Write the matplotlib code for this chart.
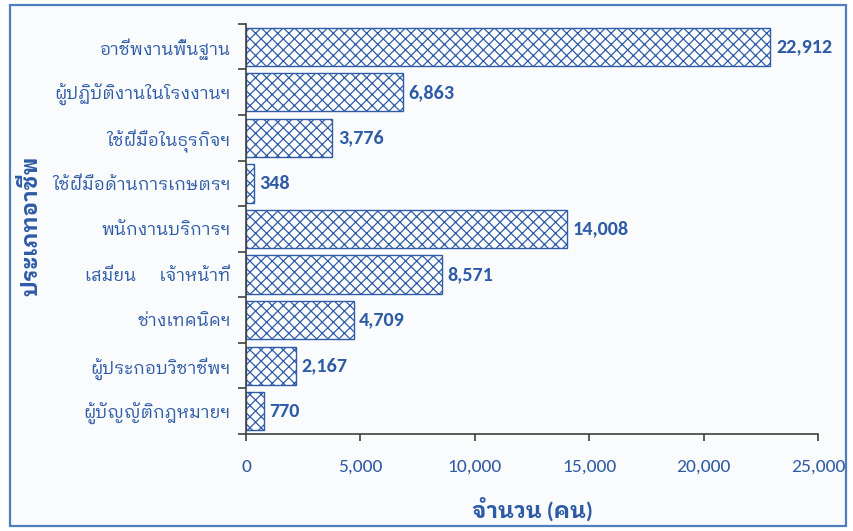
import matplotlib
matplotlib.use("Agg")
import matplotlib.pyplot as plt
from matplotlib.patches import Rectangle
from matplotlib.ticker import FuncFormatter
import numpy as np

# occupations, top to bottom
categories = ["อาชีพงานพื้นฐาน", "ผู้ปฏิบัติงานในโรงงานฯ", "ใช้ฝีมือในธุรกิจฯ",
              "ใช้ฝีมือด้านการเกษตรฯ", "พนักงานบริการฯ", "เสมียน      เจ้าหน้าที่",
              "ช่างเทคนิคฯ", "ผู้ประกอบวิชาชีพฯ", "ผู้บัญญัติกฎหมายฯ"]
values = [22912, 6863, 3776, 348, 14008, 8571, 4709, 2167, 770]
xticks = [0, 5000, 10000, 15000, 20000, 25000]

blue = "#2E5BA6"
fonts = ["Carlito", "IBM Plex Sans Thai Looped", "Noto Sans Thai Looped", "DejaVu Sans"]
plt.rcParams["font.family"] = fonts
plt.rcParams["hatch.color"] = "#3A66B0"
plt.rcParams["hatch.linewidth"] = 0.9

fig = plt.figure(figsize=(8.54, 5.31), dpi=100, facecolor="white")
fig.patches.append(Rectangle((0.0117, 0.0094), 0.979, 0.981, transform=fig.transFigure,
                             facecolor="#F9FBFD", edgecolor="#4F7EBF", linewidth=1.6, zorder=-5))
ax = fig.add_axes([0.288, 0.1827, 0.670, 0.7723])
ax.set_facecolor("none")

y = np.arange(len(categories))
ax.barh(y, values, height=0.84, color="white", edgecolor="#2F5CA8", hatch="xxx", linewidth=1.0)
for yi, v in zip(y, values):
    ax.annotate(f"{v:,}", (v, yi), xytext=(4, 0), textcoords="offset points",
                va="center", ha="left", fontsize=14.5, fontweight="bold", color=blue)

ax.set_ylim(len(categories) - 0.5, -0.5)
ax.set_xlim(0, 25000)
ax.set_xticks(xticks)
ax.xaxis.set_major_formatter(FuncFormatter(lambda v, p: f"{int(v):,}"))
ax.set_yticks(np.arange(len(categories) + 1) - 0.5)
ax.set_yticklabels([])
ax.set_yticks(y, minor=True)
ax.set_yticklabels(categories, minor=True)
ax.tick_params(axis="y", which="major", direction="out", length=6, width=1.2, color="#404040")
ax.tick_params(axis="y", which="minor", length=0, pad=11, labelsize=12.5, labelcolor=blue)
ax.tick_params(axis="x", direction="out", length=5, width=1.2, color="#404040",
               pad=13, labelsize=14, labelcolor=blue)
for s in ["top", "right"]:
    ax.spines[s].set_visible(False)
for s in ["left", "bottom"]:
    ax.spines[s].set_color("#404040")
    ax.spines[s].set_linewidth(1.2)

ax.set_xlabel("จำนวน (คน)", fontsize=16, fontweight="bold", color=blue, labelpad=16)
fig.text(0.035, 0.575, "ประเภทอาชีพ", rotation=90, ha="center", va="center",
         fontsize=16, fontweight="bold", color=blue)

fig.savefig("out.png", dpi=100, facecolor=fig.get_facecolor())
